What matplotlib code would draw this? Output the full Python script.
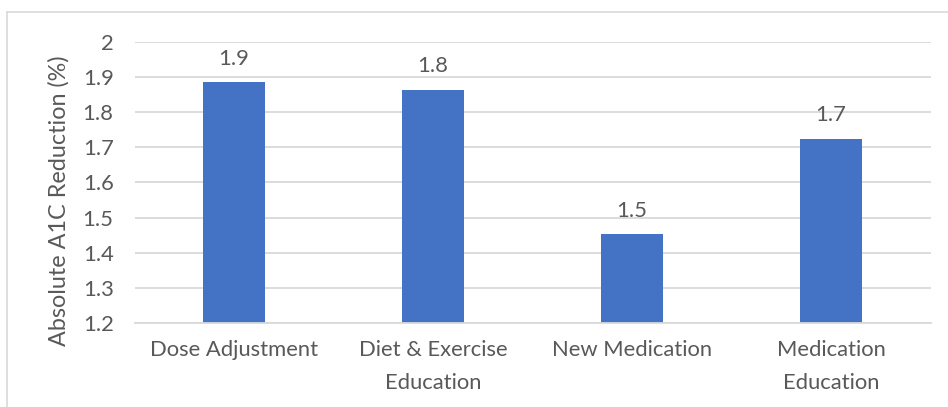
import matplotlib
matplotlib.use("Agg")
import matplotlib.pyplot as plt
from matplotlib.lines import Line2D

categories = ["Dose Adjustment", "Diet & Exercise\nEducation", "New Medication", "Medication\nEducation"]
values = [1.884, 1.862, 1.452, 1.723]
value_labels = ["1.9", "1.8", "1.5", "1.7"]
y_ticks = [1.2, 1.3, 1.4, 1.5, 1.6, 1.7, 1.8, 1.9, 2.0]
y_tick_labels = ["1.2", "1.3", "1.4", "1.5", "1.6", "1.7", "1.8", "1.9", "2"]

plt.rcParams["font.family"] = ["Lato", "DejaVu Sans"]
text_color = "#595959"
bar_color = "#4472C4"
grid_color = "#D9D9D9"
fs = 15.8

W, H = 948, 407
fig = plt.figure(figsize=(W / 100, H / 100), dpi=100)
ax = fig.add_axes([134.5 / W, 1 - 323 / H, (930.5 - 134.5) / W, (323 - 41.7) / H])

x = list(range(len(categories)))
ax.bar(x, values, width=0.31, color=bar_color, zorder=3)
ax.set_ylim(1.2, 2.0)
ax.set_xlim(-0.5, len(categories) - 0.5)

ax.set_yticks(y_ticks)
ax.set_yticklabels(y_tick_labels)
ax.set_xticks(x)
ax.set_xticklabels(categories, linespacing=1.85)
ax.tick_params(axis="y", length=0, pad=15, labelsize=fs, labelcolor=text_color)
ax.tick_params(axis="x", length=0, pad=12, labelsize=fs, labelcolor=text_color)

ax.grid(axis="y", color=grid_color, linewidth=1.3, zorder=0)
for side in ["top", "right", "left"]:
    ax.spines[side].set_visible(False)
ax.spines["bottom"].set_color(grid_color)
ax.spines["bottom"].set_linewidth(1.3)
ax.spines["bottom"].set_zorder(4)

for xi, v, t in zip(x, values, value_labels):
    ax.annotate(t, (xi, v), xytext=(0, 10), textcoords="offset points",
                ha="center", va="bottom", fontsize=fs, color=text_color)

ax.set_ylabel("Absolute A1C Reduction (%)", fontsize=16.8, color=text_color)
ax.yaxis.set_label_coords(-(134.5 - 70) / (930.5 - 134.5), 0.434)

# chart area outline (top and left edges)
fig.add_artist(Line2D([7 / W, 1.0], [1 - 12 / H, 1 - 12 / H], color=grid_color, linewidth=1.2,
                      transform=fig.transFigure))
fig.add_artist(Line2D([7 / W, 7 / W], [0, 1 - 12 / H], color=grid_color, linewidth=1.2,
                      transform=fig.transFigure))

fig.savefig("out.png", dpi=100)
